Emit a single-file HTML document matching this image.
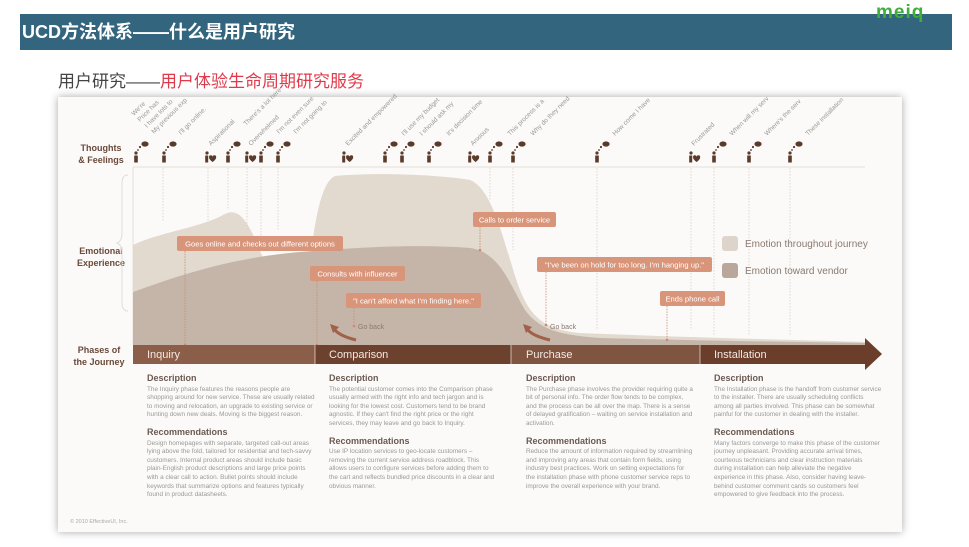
<!DOCTYPE html>
<html><head><meta charset="utf-8"><style>
body{margin:0;width:969px;height:547px;background:#fff;overflow:hidden;font-family:"Liberation Sans","Noto Sans CJK SC",sans-serif;position:relative}
.bar{position:absolute;left:20px;top:14px;width:932px;height:36px;background:#33657e;color:#fff;font-size:18px;font-weight:bold;line-height:36px;padding-left:2px;box-sizing:border-box}
.logo{position:absolute;left:876px;top:2px;color:#3fae3a;font-size:19px;font-weight:bold;letter-spacing:1px}
.sub{position:absolute;left:58px;top:67px;font-size:17px;color:#444}
.sub span{color:#e03a4a}
.card{position:absolute;left:58px;top:97px;width:844px;height:435px;background:#fbfaf8;box-shadow:0 0 8px rgba(0,0,0,.35)}
svg{position:absolute;left:0;top:0}
.col{position:absolute;width:168px;font-size:6.4px;line-height:8.6px;color:#999}
.col h4{margin:0 0 3px;font-size:9px;color:#6a5a52;font-weight:bold}
.col h5{margin:8px 0 3px;font-size:9px;color:#6a5a52;font-weight:bold}
</style></head><body>
<div class="bar">UCD方法体系——什么是用户研究</div>
<div class="logo">meiq</div>
<div class="sub">用户研究——<span>用户体验生命周期研究服务</span></div>
<div class="card"></div>
<svg width="969" height="547" viewBox="0 0 969 547" font-family="Liberation Sans, sans-serif">
<defs>
<g id="p"><circle cx="0" cy="-7" r="1.6" fill="#5a3a2a"/><rect x="-1.8" y="-4.5" width="3.6" height="7" fill="#5a3a2a"/><circle cx="2" cy="-10" r="0.9" fill="#5a3a2a"/><circle cx="4" cy="-13" r="1.1" fill="#5a3a2a"/><ellipse cx="9" cy="-16" rx="3.6" ry="2.6" fill="#5a3a2a"/></g>
<g id="h"><circle cx="0" cy="-7" r="1.6" fill="#5a3a2a"/><rect x="-1.8" y="-4.5" width="3" height="7" fill="#5a3a2a"/><path d="M2,-3 a1.8,1.8 0 0 1 3.6,0 a1.8,1.8 0 0 1 3.6,0 q0,2.5 -3.6,5 q-3.6,-2.5 -3.6,-5z" fill="#5a3a2a"/></g>
</defs>
<g font-size="9" font-weight="bold" fill="#6a4a3a" text-anchor="middle">
<text x="101" y="151">Thoughts</text><text x="101" y="163">&amp; Feelings</text>
<text x="101" y="254">Emotional</text><text x="101" y="266">Experience</text>
<text x="99" y="353">Phases of</text><text x="99" y="365">the Journey</text>
</g>
<path d="M128,175 q-6,0 -6,8 v50 q0,8 -5,10 q5,2 5,10 v50 q0,8 6,8" fill="none" stroke="#ddd" stroke-width="1"/>
<line x1="133" y1="167" x2="865" y2="167" stroke="#e4ddd6" stroke-width="1"/>
<line x1="133" y1="167" x2="133" y2="345" stroke="#e4ddd6"/>
<path d="M133,245 C160,232 200,228 225,214 C245,204 255,240 270,275 C282,300 295,305 305,290 C312,260 315,185 335,176 C380,172 440,175 470,180 C495,190 505,250 520,290 C532,320 548,330 580,333 C700,338 800,340 865,342 L865,345 L133,345Z" fill="#e2d9cf"/>
<path d="M133,292 C180,275 230,258 300,252 C360,247 420,244 470,248 C500,252 510,285 525,310 C540,330 560,335 600,338 C720,341 800,342 865,343 L865,345 L133,345Z" fill="#c5b5a8"/>
<g stroke="#d8cfc6" stroke-width="0.8" stroke-dasharray="1.5,1.5">
<line x1="163" y1="168" x2="163" y2="222"/><line x1="208" y1="168" x2="208" y2="222"/><line x1="228" y1="168" x2="228" y2="210"/><line x1="247" y1="168" x2="247" y2="230"/><line x1="261" y1="168" x2="261" y2="240"/><line x1="278" y1="168" x2="278" y2="230"/>
<line x1="490" y1="168" x2="490" y2="200"/><line x1="513" y1="168" x2="513" y2="250"/><line x1="597" y1="168" x2="597" y2="330"/><line x1="691" y1="168" x2="691" y2="330"/><line x1="714" y1="168" x2="714" y2="335"/><line x1="749" y1="168" x2="749" y2="335"/><line x1="790" y1="168" x2="790" y2="335"/>
</g>
<use href="#p" x="136" y="160"/><use href="#p" x="164" y="160"/><use href="#h" x="207" y="160"/><use href="#p" x="228" y="160"/><use href="#h" x="247" y="160"/><use href="#p" x="261" y="160"/><use href="#p" x="278" y="160"/>
<use href="#h" x="344" y="160"/><use href="#p" x="385" y="160"/><use href="#p" x="402" y="160"/><use href="#p" x="429" y="160"/><use href="#h" x="470" y="160"/><use href="#p" x="490" y="160"/><use href="#p" x="513" y="160"/><use href="#p" x="597" y="160"/><use href="#h" x="691" y="160"/><use href="#p" x="714" y="160"/><use href="#p" x="749" y="160"/><use href="#p" x="790" y="160"/>
<g font-size="6.5" fill="#999">
<text transform="translate(134,116) rotate(-45)">We're</text>
<text transform="translate(140,122) rotate(-45)">Price has</text>
<text transform="translate(147,128) rotate(-45)">I have lots to</text>
<text transform="translate(154,134) rotate(-45)">My previous exp</text>
<text transform="translate(181,135) rotate(-45)">I'll go online.</text>
<text transform="translate(211,146) rotate(-45)">Aspirational</text>
<text transform="translate(246,126) rotate(-45)">There's a lot here</text>
<text transform="translate(251,146) rotate(-45)">Overwhelmed</text>
<text transform="translate(279,134) rotate(-45)">I'm not even sure</text>
<text transform="translate(296,134) rotate(-45)">I'm not going to</text>
<text transform="translate(348,146) rotate(-45)">Excited and empowered</text>
<text transform="translate(404,136) rotate(-45)">I'll use my budget</text>
<text transform="translate(422,136) rotate(-45)">I should ask my</text>
<text transform="translate(449,136) rotate(-45)">It's decision time</text>
<text transform="translate(473,146) rotate(-45)">Anxious</text>
<text transform="translate(510,136) rotate(-45)">This process is a</text>
<text transform="translate(533,136) rotate(-45)">Why do they need</text>
<text transform="translate(615,136) rotate(-45)">How come I have</text>
<text transform="translate(694,146) rotate(-45)">Frustrated</text>
<text transform="translate(732,136) rotate(-45)">When will my serv</text>
<text transform="translate(767,136) rotate(-45)">Where's the serv</text>
<text transform="translate(808,136) rotate(-45)">These installation</text>
</g>
<g stroke="#c98a70" stroke-width="0.8" stroke-dasharray="1.5,1.2">
<line x1="185" y1="251" x2="185" y2="345"/><line x1="317" y1="281" x2="317" y2="345"/><line x1="354" y1="308" x2="354" y2="326"/><line x1="480" y1="227" x2="480" y2="250"/><line x1="546" y1="272" x2="546" y2="325"/><line x1="667" y1="306" x2="667" y2="340"/>
</g>
<g fill="#c98a70"><circle cx="185" cy="345" r="1.3"/><circle cx="317" cy="345" r="1.3"/><circle cx="354" cy="326" r="1.3"/><circle cx="480" cy="250" r="1.3"/><circle cx="546" cy="325" r="1.3"/><circle cx="667" cy="340" r="1.3"/></g>
<g fill="#d9957a">
<rect x="177" y="236" width="166" height="15" rx="2"/><rect x="310" y="266" width="95" height="15" rx="2"/><rect x="346" y="293" width="135" height="15" rx="2"/><rect x="473" y="212" width="83" height="15" rx="2"/><rect x="537" y="257" width="175" height="15" rx="2"/><rect x="660" y="291" width="65" height="15" rx="2"/>
</g>
<g font-size="7.6" fill="#fff" text-anchor="middle">
<text x="260" y="246.5">Goes online and checks out different options</text>
<text x="357.5" y="276.5">Consults with influencer</text>
<text x="413.5" y="303.5">"I can't afford what I'm finding here."</text>
<text x="514.5" y="222.5">Calls to order service</text>
<text x="624.5" y="267.5">"I've been on hold for too long. I'm hanging up."</text>
<text x="692.5" y="301.5">Ends phone call</text>
</g>
<g font-size="7" fill="#8a7a70"><text x="358" y="329">Go back</text><text x="550" y="329">Go back</text></g>
<g fill="none" stroke="#a0604a" stroke-width="3"><path d="M356,340 Q340,336 335,330"/><path d="M550,340 Q533,336 528,330"/></g>
<g fill="#a0604a"><path d="M330,324 l9,3 l-6,6z"/><path d="M523,324 l9,3 l-6,6z"/></g>
<rect x="722" y="236" width="16" height="15" rx="3" fill="#ddd5cc"/>
<rect x="722" y="263" width="16" height="15" rx="3" fill="#b9a79c"/>
<g font-size="10" fill="#8a7a70"><text x="745" y="247">Emotion throughout journey</text><text x="745" y="274">Emotion toward vendor</text></g>
<rect x="133" y="345" width="182" height="19" fill="#8a5e49"/>
<rect x="315" y="345" width="196" height="19" fill="#6c412e"/>
<rect x="511" y="345" width="189" height="19" fill="#7f5541"/>
<path d="M700,345 H865 V338 L882,354 L865,370 V364 H700Z" fill="#6a3e2b"/>
<line x1="315" y1="345" x2="315" y2="364" stroke="#fff" stroke-width="0.6"/><line x1="511" y1="345" x2="511" y2="364" stroke="#fff" stroke-width="0.6"/><line x1="700" y1="345" x2="700" y2="364" stroke="#fff" stroke-width="0.6"/>
<g font-size="11" fill="#f3e9e2"><text x="147" y="358">Inquiry</text><text x="329" y="358">Comparison</text><text x="526" y="358">Purchase</text><text x="714" y="358">Installation</text></g>
<text x="70" y="523" font-size="5.5" fill="#aaa">© 2010 EffectiveUI, Inc.</text>
</svg>
<div class="col" style="left:147px;top:374px"><h4>Description</h4>The Inquiry phase features the reasons people are shopping around for new service. These are usually related to moving and relocation, an upgrade to existing service or hunting down new deals. Moving is the biggest reason.<h5>Recommendations</h5>Design homepages with separate, targeted call-out areas lying above the fold, tailored for residential and tech-savvy customers. Internal product areas should include basic plain-English product descriptions and large price points with a clear call to action. Bullet points should include keywords that summarize options and features typically found in product datasheets.</div>
<div class="col" style="left:329px;top:374px"><h4>Description</h4>The potential customer comes into the Comparison phase usually armed with the right info and tech jargon and is looking for the lowest cost. Customers tend to be brand agnostic. If they can't find the right price or the right services, they may leave and go back to Inquiry.<h5>Recommendations</h5>Use IP location services to geo-locate customers – removing the current service address roadblock. This allows users to configure services before adding them to the cart and reflects bundled price discounts in a clear and obvious manner.</div>
<div class="col" style="left:526px;top:374px"><h4>Description</h4>The Purchase phase involves the provider requiring quite a bit of personal info. The order flow tends to be complex, and the process can be all over the map. There is a sense of delayed gratification – waiting on service installation and activation.<h5>Recommendations</h5>Reduce the amount of information required by streamlining and improving any areas that contain form fields, using industry best practices. Work on setting expectations for the installation phase with phone customer service reps to improve the overall experience with your brand.</div>
<div class="col" style="left:714px;top:374px"><h4>Description</h4>The Installation phase is the handoff from customer service to the installer. There are usually scheduling conflicts among all parties involved. This phase can be somewhat painful for the customer in dealing with the installer.<h5>Recommendations</h5>Many factors converge to make this phase of the customer journey unpleasant. Providing accurate arrival times, courteous technicians and clear instruction materials during installation can help alleviate the negative experience in this phase. Also, consider having leave-behind customer comment cards so customers feel empowered to give feedback into the process.</div>
</body></html>
